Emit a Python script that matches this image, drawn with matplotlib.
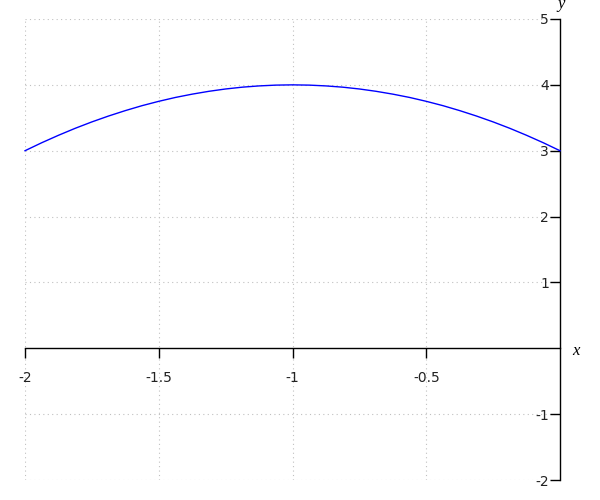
import matplotlib
matplotlib.use("Agg")
import matplotlib.pyplot as plt

# curve points (symmetric around x = -1)
xs = [-2.0, -1.9375, -1.875, -1.8125, -1.75, -1.6875, -1.625, -1.5625, -1.5,
      -1.4375, -1.375, -1.3125, -1.25, -1.1875, -1.125, -1.0625, -1.0,
      -0.9375, -0.875, -0.8125, -0.75, -0.6875, -0.625, -0.5625, -0.5,
      -0.4375, -0.375, -0.3125, -0.25, -0.1875, -0.125, -0.0625, 0.0]
ys = [3.0, 3.121, 3.234, 3.340, 3.4375, 3.527, 3.609, 3.684, 3.75,
      3.809, 3.859, 3.902, 3.9375, 3.965, 3.984, 3.996, 4.0,
      3.996, 3.984, 3.965, 3.9375, 3.902, 3.859, 3.809, 3.75,
      3.684, 3.609, 3.527, 3.4375, 3.340, 3.234, 3.121, 3.0]

x_ticks = [-2, -1.5, -1, -0.5]
x_labels = ["-2", "-1.5", "-1", "-0.5"]
y_ticks = [-2, -1, 1, 2, 3, 4, 5]
y_labels = ["-2", "-1", "1", "2", "3", "4", "5"]

plt.rcParams['axes.unicode_minus'] = False

fig = plt.figure(figsize=(6, 5), dpi=100)
ax = fig.add_axes([25/600, 1 - 480/500, 535/600, 461/500])
ax.set_xlim(-2, 0)
ax.set_ylim(-2, 5)

# dotted grid
for gx in x_ticks:
    ax.axvline(gx, color="#c0c0c0", lw=0.8, ls=(0, (1, 3)), zorder=0)
for gy in y_ticks:
    ax.axhline(gy, color="#c0c0c0", lw=0.8, ls=(0, (1, 3)), zorder=0)

ax.plot(xs, ys, color="blue", lw=1, clip_on=False, zorder=3)

for s in ["top", "right"]:
    ax.spines[s].set_visible(False)
ax.spines["left"].set_position(("data", 0))
ax.spines["bottom"].set_position(("data", 0))
for s in ["left", "bottom"]:
    ax.spines[s].set_color("black")
    ax.spines[s].set_linewidth(1)

ax.set_xticks(x_ticks, x_labels)
ax.set_yticks(y_ticks, y_labels)
ax.tick_params(axis="x", direction="out", length=7, width=1, pad=9,
               labelsize=10, colors="black")
ax.tick_params(axis="y", direction="out", length=7, width=1, pad=1,
               labelsize=10, colors="black")
for t in ax.get_xticklabels() + ax.get_yticklabels():
    t.set_color("#222222")

fig.text(572/600, 1 - 351/500, "x", family="Liberation Serif", style="italic",
         fontsize=12, ha="left", va="center")
fig.text(561/600, 1 - 4/500, "y", family="Liberation Serif", style="italic",
         fontsize=12, ha="center", va="center")

fig.savefig("out.png", dpi=100)
